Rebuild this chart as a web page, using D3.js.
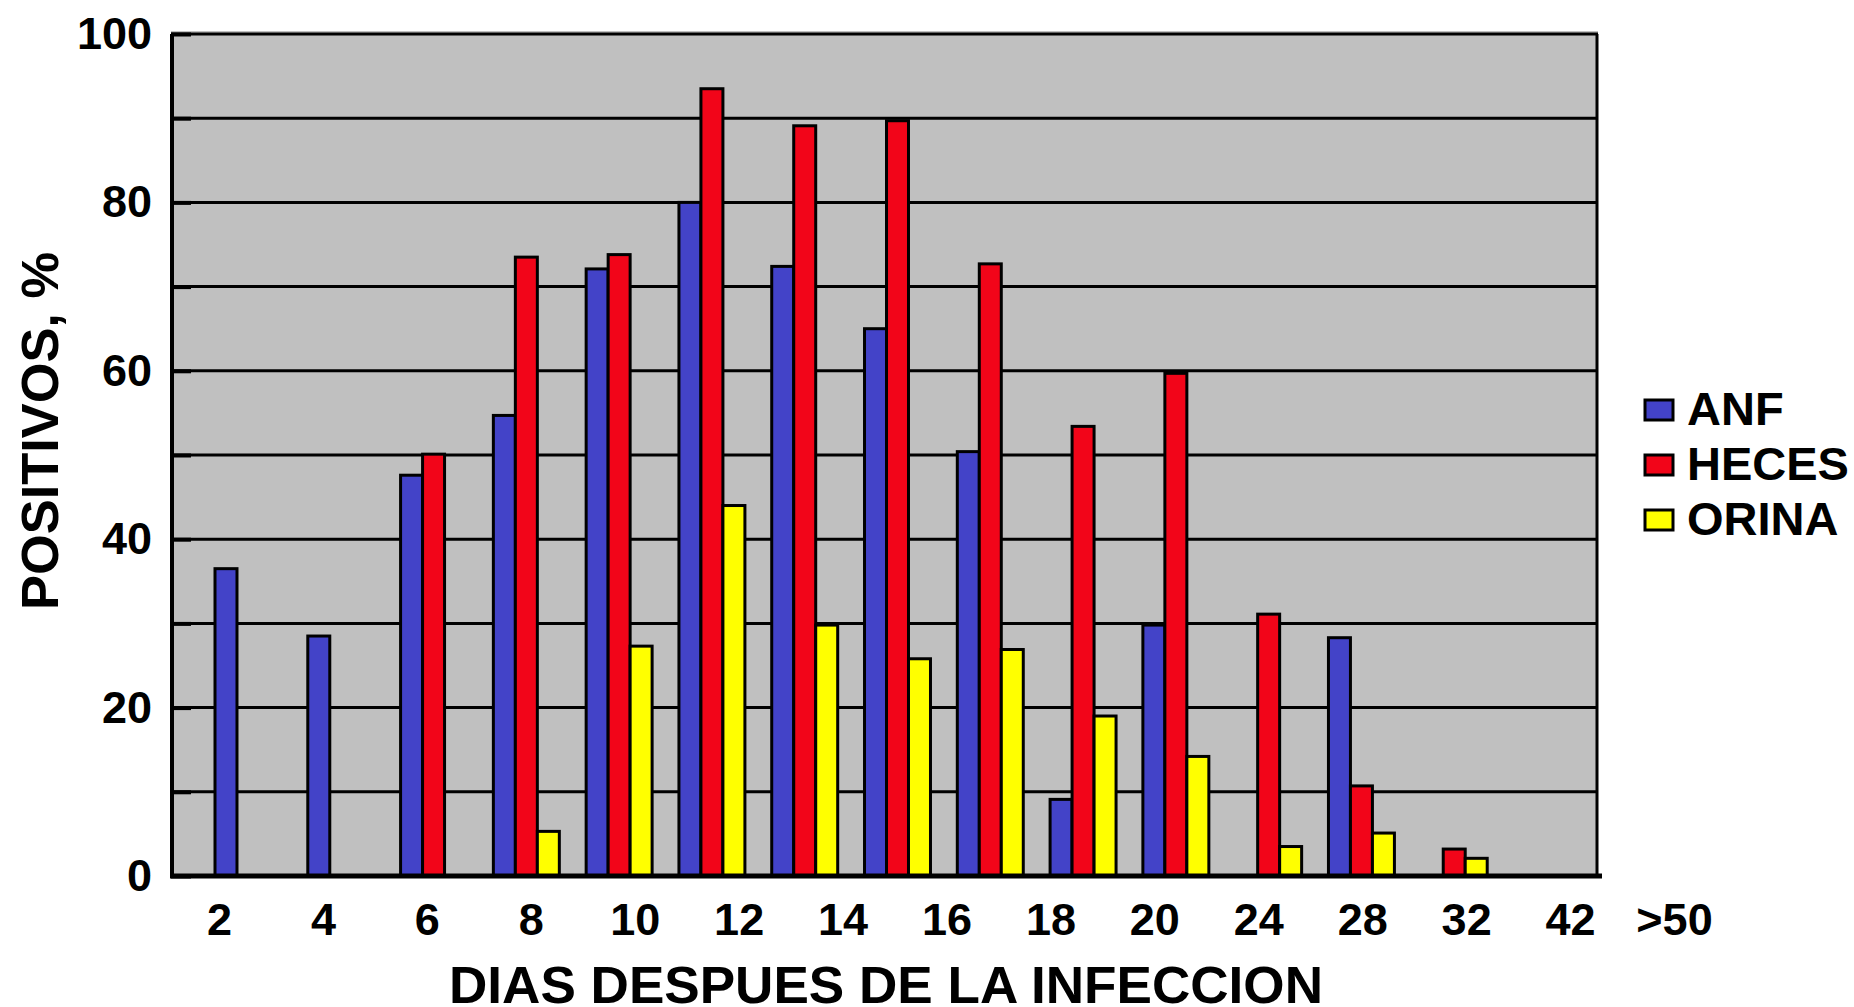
<!DOCTYPE html>
<html>
<head>
<meta charset="utf-8">
<script src="https://cdn.jsdelivr.net/npm/d3@7"></script>
<style>
  body { margin: 0; background: #fff; }
  text { font-family: "Liberation Sans", Arial, sans-serif; font-weight: bold; fill: #000; }
</style>
</head>
<body>
<script>
// days after infection (one group of bars per day)
var categories = ['2', '4', '6', '8', '10', '12', '14', '16', '18', '20', '24', '28', '32', '42', '>50'];
var series = ['ANF', 'HECES', 'ORINA'];
var colors = ['#4343c8', '#f20519', '#ffff00'];

// % positive, null = no bar
var anf   = [36.5, 28.5, 47.6, 54.7, 72.1, 80.0, 72.4, 65.0, 50.4, 9.1, 29.8, null, 28.3, null, null];
var heces = [null, null, 50.1, 73.5, 73.8, 93.5, 89.1, 89.7, 72.7, 53.4, 59.7, 31.1, 10.7, 3.2, null];
var orina = [null, null, null, 5.3, 27.3, 44.0, 29.8, 25.8, 26.9, 19.0, 14.2, 3.5, 5.1, 2.1, null];

var yTicks = [0, 10, 20, 30, 40, 50, 60, 70, 80, 90, 100];

var svg = d3.select('body')
    .append('svg')
    .attr('width', 1854)
    .attr('height', 1007);

var plotLeft = 171, plotRight = 1598, plotTop = 34, plotBottom = 876;

var y = d3.scaleLinear().domain([0, 100]).range([plotBottom, plotTop]);

var x = d3.scaleBand()
    .domain(categories)
    .range([215, 1580])
    .paddingInner(0.289)
    .paddingOuter(0);

var xSub = d3.scaleBand().domain(series).range([0, x.bandwidth()]);

// tick labels in the original are spread wider than the bar groups
var xLabel = d3.scalePoint().domain(categories).range([219, 1674]);

// plot background
svg.append('rect')
    .attr('x', plotLeft)
    .attr('y', plotTop - 3)
    .attr('width', plotRight - plotLeft)
    .attr('height', plotBottom - plotTop + 3)
    .attr('fill', '#c0c0c0');

// gridlines
svg.append('g')
    .selectAll('line')
    .data(yTicks)
    .enter()
    .append('line')
    .attr('x1', plotLeft)
    .attr('x2', plotRight)
    .attr('y1', function(d) { return y(d); })
    .attr('y2', function(d) { return y(d); })
    .attr('stroke', '#000')
    .attr('stroke-width', 3);

// bars
var rows = categories.map(function(c, i) {
    return { cat: c, vals: [anf[i], heces[i], orina[i]] };
});

var groups = svg.append('g')
    .selectAll('g')
    .data(rows)
    .enter()
    .append('g')
    .attr('transform', function(d) { return 'translate(' + x(d.cat) + ',0)'; });

groups.selectAll('rect')
    .data(function(d) {
        return series.map(function(s, j) { return { s: s, v: d.vals[j], c: colors[j] }; })
            .filter(function(e) { return e.v !== null; });
    })
    .enter()
    .append('rect')
    .attr('x', function(d) { return xSub(d.s); })
    .attr('y', function(d) { return y(d.v); })
    .attr('width', xSub.bandwidth())
    .attr('height', function(d) { return y(0) - y(d.v); })
    .attr('fill', function(d) { return d.c; })
    .attr('stroke', '#000')
    .attr('stroke-width', 3);

// frame
svg.append('line')
    .attr('x1', plotLeft + 1).attr('x2', plotLeft + 1)
    .attr('y1', plotTop).attr('y2', plotBottom)
    .attr('stroke', '#000').attr('stroke-width', 4);

svg.append('line')
    .attr('x1', plotRight - 1).attr('x2', plotRight - 1)
    .attr('y1', plotTop).attr('y2', plotBottom)
    .attr('stroke', '#000').attr('stroke-width', 3);

svg.append('line')
    .attr('x1', plotLeft - 1).attr('x2', plotRight + 4)
    .attr('y1', plotBottom).attr('y2', plotBottom)
    .attr('stroke', '#000').attr('stroke-width', 5);

// y axis: inner ticks + labels every 20
var yAxis = svg.append('g')
    .attr('transform', 'translate(' + plotLeft + ',0)')
    .call(d3.axisLeft(y)
        .tickValues(yTicks)
        .tickSize(-20)
        .tickPadding(19)
        .tickFormat(function(d) { return d % 20 === 0 ? d : ''; }));

yAxis.select('.domain').remove();
yAxis.selectAll('.tick line').attr('stroke', '#000').attr('stroke-width', 4);
yAxis.selectAll('text')
    .attr('font-size', 45)
    .style('font-family', '"Liberation Sans", Arial, sans-serif')
    .style('font-weight', 'bold')
    .attr('fill', '#000');

// x axis labels
var xAxis = svg.append('g')
    .attr('transform', 'translate(0,' + plotBottom + ')')
    .call(d3.axisBottom(xLabel).tickSize(0).tickPadding(27));

xAxis.select('.domain').remove();
xAxis.selectAll('text')
    .attr('font-size', 45)
    .style('font-family', '"Liberation Sans", Arial, sans-serif')
    .style('font-weight', 'bold')
    .attr('fill', '#000');

// axis titles
svg.append('text')
    .attr('x', 886)
    .attr('y', 1003)
    .attr('font-size', 51)
    .attr('textLength', 874)
    .attr('lengthAdjust', 'spacingAndGlyphs')
    .style('text-anchor', 'middle')
    .text('DIAS DESPUES DE LA INFECCION');

svg.append('text')
    .attr('transform', 'translate(58,431) rotate(-90)')
    .attr('font-size', 52)
    .attr('textLength', 358)
    .attr('lengthAdjust', 'spacingAndGlyphs')
    .style('text-anchor', 'middle')
    .text('POSITIVOS, %');

// legend
var legendY = d3.scalePoint().domain(series).range([410, 520]);

var legend = svg.append('g')
    .selectAll('g')
    .data(series)
    .enter()
    .append('g')
    .attr('transform', function(d) { return 'translate(0,' + legendY(d) + ')'; });

legend.append('rect')
    .attr('x', 1645)
    .attr('y', -10)
    .attr('width', 28)
    .attr('height', 20)
    .attr('fill', function(d, i) { return colors[i]; })
    .attr('stroke', '#000')
    .attr('stroke-width', 3);

legend.append('text')
    .attr('x', 1687)
    .attr('y', 15)
    .attr('font-size', 47)
    .text(function(d) { return d; });
</script>
</body>
</html>
